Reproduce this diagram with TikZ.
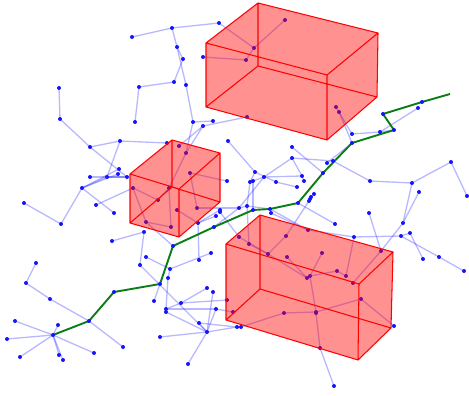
\documentclass[tikz,border=0pt]{standalone}
\usetikzlibrary{backgrounds}
\definecolor{dotblue}{RGB}{20,20,255}
\definecolor{treeblue}{RGB}{40,40,255}
\definecolor{pathgreen}{RGB}{10,125,20}
\tikzset{
  dot/.style={circle,fill=dotblue,inner sep=0pt,minimum size=4pt,draw=none},
  edge/.style={draw=treeblue,opacity=.33,line width=1.3pt},
  route/.style={draw=pathgreen,line width=1.9pt,line join=round},
  boxfill/.style={fill=red,fill opacity=.43,draw=none},
  boxedge/.style={draw=red,line width=1.05pt,line join=round}
}
\begin{document}
\begin{tikzpicture}[x=1pt,y=-1pt]
\useasboundingbox (0,0) rectangle (469,396);
\foreach \n/\x/\y in {
1/132/37,2/172/28,3/219/23,4/177/47,5/183/59,6/174/82,7/139/87,8/135/122,9/186/85,10/193/122,
11/213/121,12/203/126,13/254/48,14/285/20,15/246/60,16/203/57,17/247/117,18/186/153,19/179/146,20/167/143,
21/120/141,22/90/147,23/60/119,24/59/88,25/127/177,26/107/177,27/119/169,28/118/174,29/90/177,30/82/188,
31/96/205,32/114/213,33/61/224,34/24/203,35/133/188,36/158/200,37/169/188,38/146/222,39/171/227,40/177/210,
41/190/173,42/227/181,43/197/208,44/198/223,45/220/210,46/220/212,47/216/216,48/214/227,49/239/208,50/247/206,
51/253/210,52/270/209,53/228/141,54/255/172,55/264/177,56/253/181,57/250/182,58/292/147,59/292/158,60/333/161,
61/327/163,62/323/173,63/276/182,64/302/176,65/304/181,66/297/187,67/298/203,68/314/194,69/311/197,70/310/199,
71/309/201,72/335/224,73/286/236,74/308/230,75/271/213,76/268/254,77/249/244,78/239/237,79/287/257,80/322/253,
81/310/276,82/307/278,83/337/271,84/346/276,85/353/283,86/354/237,87/401/236,88/410/233,89/403/223,90/369/213,
91/381/251,92/419/192,93/412/183,94/370/181,95/451/162,96/467/196,97/423/259,98/439/257,99/464/271,100/361/299,
101/394/326,102/316/312,103/316/313,104/284/313,105/241/327,106/237/327,107/320/348,108/334/386,109/352/143,110/352/134,
111/380/132,112/394/130,113/383/114,114/418/108,115/422/102,116/339/112,117/336/107,118/173/246,119/144/232,120/112/241,
121/140/265,122/146/257,123/170/269,124/211/253,125/199/260,126/168/278,127/160/284,128/154/301,129/114/292,130/89/321,
131/53/335,132/50/299,133/26/283,134/36/263,135/123/347,136/15/321,137/58/325,138/7/339,139/20/357,140/59/355,
141/63/360,142/94/353,143/181/303,144/207/288,145/213/292,146/227/300,147/166/309,148/166/312,149/216/309,150/233/312,
151/199/323,152/207/332,153/160/337,154/188/364}
  {\node[dot] (n\n) at (\x,\y) {};}
\coordinate (gend) at (450,94);
\begin{scope}[on background layer]
\foreach \a/\b in {
1/2,2/3,2/4,4/5,4/9,5/6,6/7,7/8,9/10,10/11,10/18,12/18,12/19,12/17,3/13,13/14,13/15,15/16,
24/23,23/22,22/21,21/20,22/25,21/26,26/25,29/25,30/27,30/28,30/26,30/33,33/34,30/32,31/35,35/36,36/37,35/38,38/39,
38/118,39/37,37/18,41/42,41/43,43/49,40/44,44/45,44/47,48/49,46/78,53/54,49/55,49/50,50/52,50/57,57/54,55/56,55/59,55/64,
59/64,64/65,59/60,54/63,63/66,51/56,58/62,61/109,60/94,94/93,93/95,95/96,93/89,89/92,89/91,91/90,91/85,
67/72,52/74,75/74,74/86,86/87,87/88,87/98,98/99,88/97,86/84,84/83,83/81,81/80,79/82,82/76,81/82,76/73,73/71,76/77,77/50,76/78,
68/69,69/70,70/71,81/102,102/103,103/107,107/108,104/102,105/104,105/106,102/100,100/101,
117/110,116/109,110/111,111/112,111/114,
122/123,123/124,125/44,119/120,119/121,121/152,127/128,123/126,126/147,147/148,147/143,143/144,143/146,147/149,149/150,
148/152,149/152,145/152,151/152,151/106,152/106,153/152,154/152,
134/133,133/132,132/130,130/135,131/136,131/137,131/138,131/139,131/140,131/141,131/142}
  {\draw[edge] (n\a.center) -- (n\b.center);}
\draw[route] (n131.center) -- (n130.center) -- (n129.center) -- (n127.center) -- (n118.center) -- (n48.center) -- (n51.center) -- (n52.center) -- (n67.center) -- (n62.center) -- (n109.center) -- (n112.center) -- (n113.center) -- (n115.center) -- (gend);
\end{scope}
% top box
\fill[boxfill] (206,43) -- (258,3) -- (378,33) -- (377,97) -- (327,140) -- (206,107) -- cycle;
\draw[boxedge] (206,43) -- (327,75) -- (327,140) -- (206,107) -- cycle
  (258,3) -- (378,33) -- (377,97) -- (258,66) -- cycle
  (206,43) -- (258,3) (327,75) -- (378,33) (327,140) -- (377,97) (206,107) -- (258,66);
% middle box
\fill[boxfill] (130,174) -- (172,140) -- (220,153) -- (220,202) -- (179,237) -- (130,223) -- cycle;
\draw[boxedge] (130,174) -- (179,189) -- (179,237) -- (130,223) -- cycle
  (172,140) -- (220,153) -- (220,202) -- (172,187) -- cycle
  (130,174) -- (172,140) (179,189) -- (220,153) (179,237) -- (220,202) (130,223) -- (172,187);
% bottom box
\fill[boxfill] (226,244) -- (260,215) -- (393,252) -- (391,328) -- (358,360) -- (226,320) -- cycle;
\draw[boxedge] (226,244) -- (359,284) -- (358,360) -- (226,320) -- cycle
  (260,215) -- (393,252) -- (391,328) -- (260,289) -- cycle
  (226,244) -- (260,215) (359,284) -- (393,252) (358,360) -- (391,328) (226,320) -- (260,289);
\end{tikzpicture}
\end{document}
